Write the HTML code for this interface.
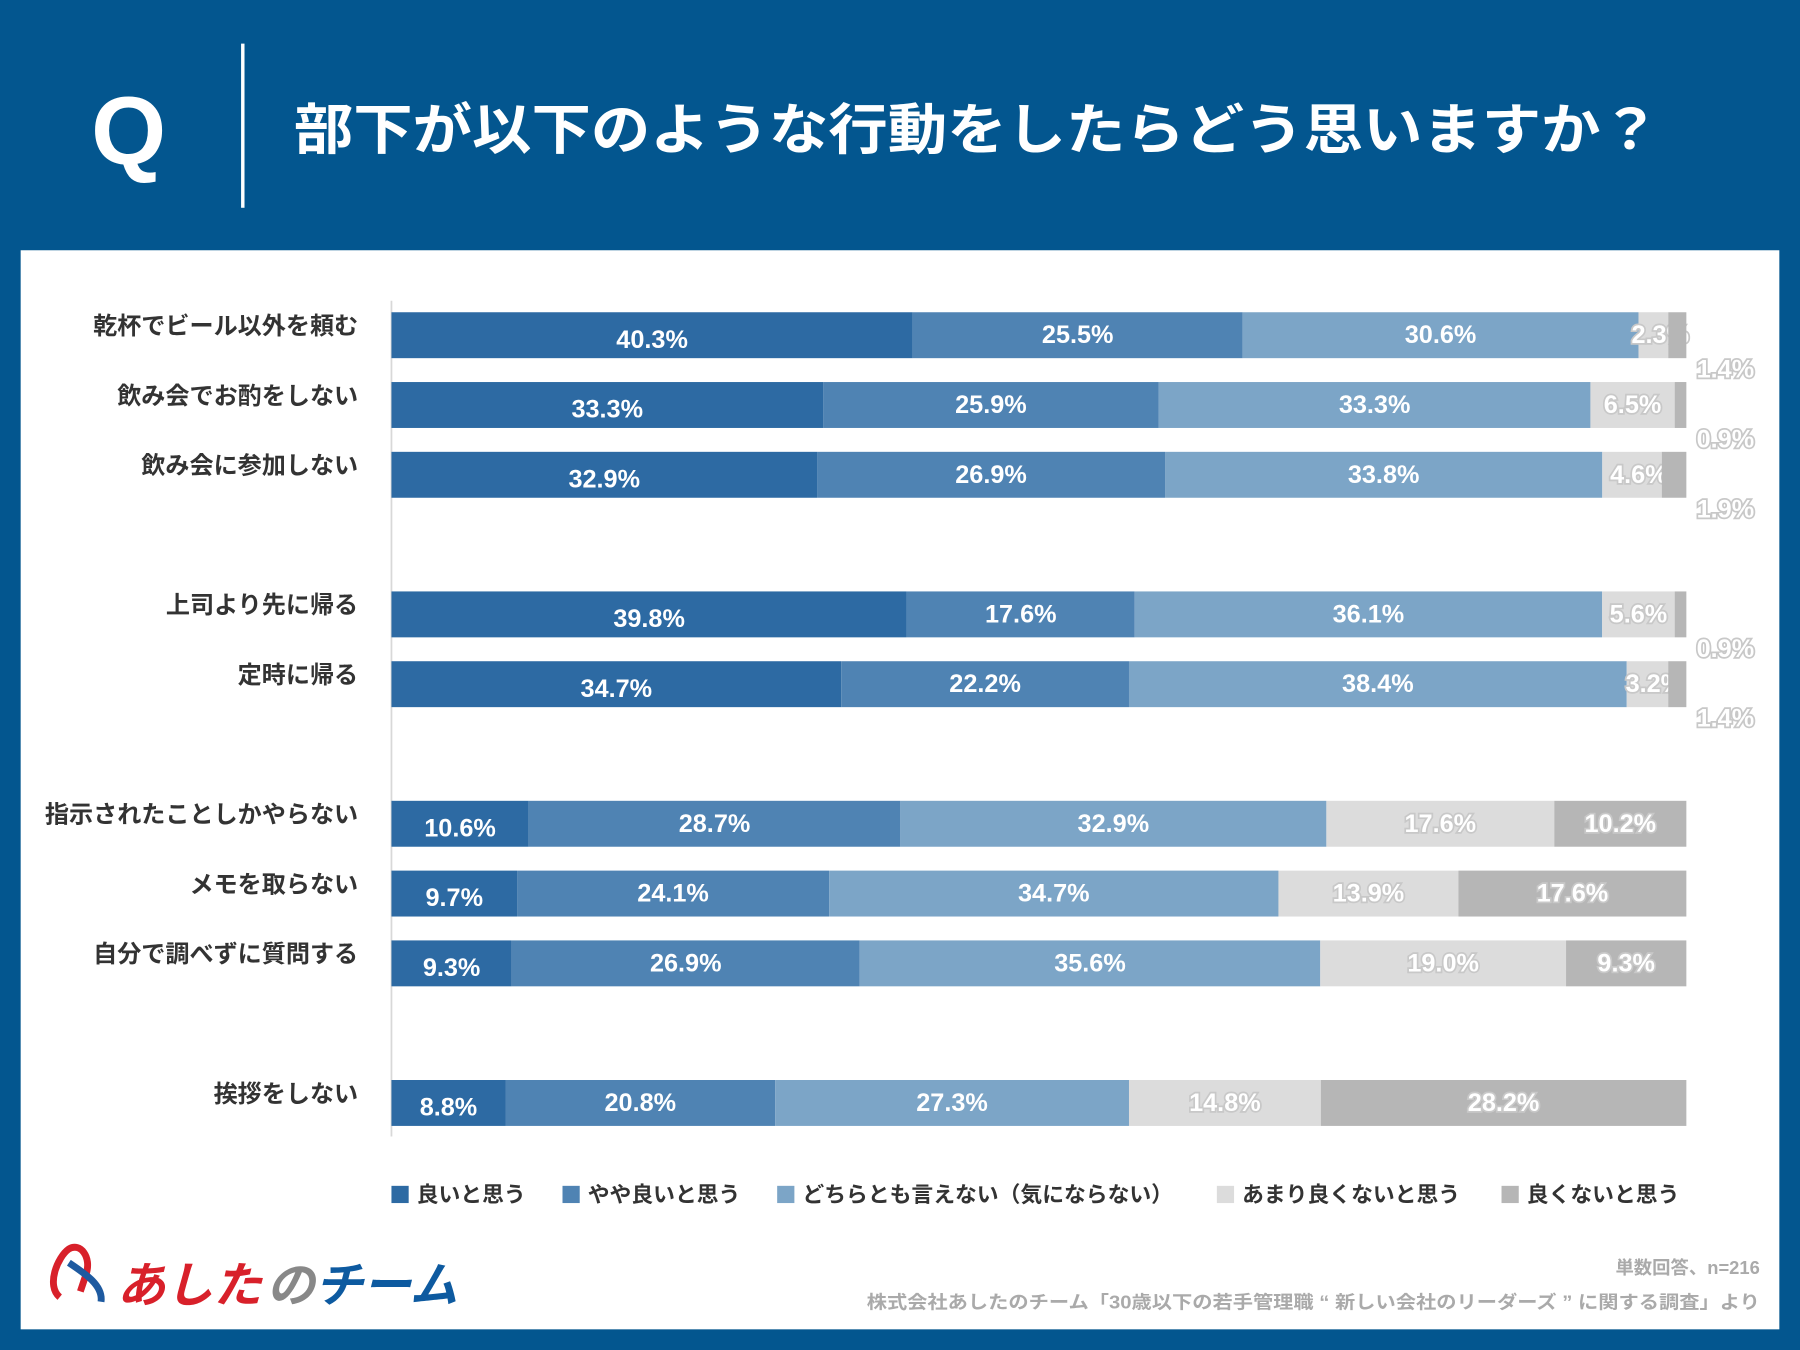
<!DOCTYPE html>
<html><head><meta charset="utf-8"><style>
html,body{margin:0;padding:0;background:#03568f;}
svg{display:block;}
text{font-family:"Liberation Sans","Noto Sans CJK JP",sans-serif;}
</style></head><body>
<svg id="chart" width="1800" height="1350" viewBox="0 0 1568 1176" xmlns="http://www.w3.org/2000/svg">
<rect x="0" y="0" width="1568" height="1176" fill="#03568f"/>
<text x="112" y="143" font-size="84" font-weight="bold" fill="#fff" text-anchor="middle">Q</text>
<rect x="210" y="38" width="3" height="143" fill="#fff"/>
<text x="256" y="130" font-size="48" font-weight="bold" fill="#fff" textLength="1190" lengthAdjust="spacingAndGlyphs">部下が以下のような行動をしたらどう思いますか？</text>
<rect x="18" y="218" width="1532" height="940" fill="#fff"/>
<line x1="341" y1="262" x2="341" y2="990" stroke="#d8d8d8" stroke-width="1.5"/>
<g id="bars"></g>
<g id="legend"></g>
<g>
<path d="M52 1130 C40 1120 50 1095 60 1088 C70 1082 80 1095 75 1110 L70 1125" fill="none" stroke="#d8202a" stroke-width="6"/>
<path d="M60 1100 C75 1110 90 1120 88 1134" fill="none" stroke="#1e5aa0" stroke-width="6"/>
<text x="102" y="1134" font-size="42" font-weight="bold" font-style="italic" fill="#d8202a">あした</text>
<text x="232" y="1134" font-size="42" font-weight="bold" font-style="italic" fill="#888">の</text>
<text x="274" y="1134" font-size="42" font-weight="bold" font-style="italic" fill="#0d5aa0">チーム</text>
</g>
<text x="1533" y="1110" font-size="16" font-weight="bold" fill="#aaa" text-anchor="end">単数回答、n=216</text>
<text x="755" y="1140" font-size="16" font-weight="bold" fill="#aaa" textLength="778" lengthAdjust="spacingAndGlyphs">株式会社あしたのチーム「30歳以下の若手管理職 “ 新しい会社のリーダーズ ” に関する調査」より</text>
</svg>
<script>
const categories = ["乾杯でビール以外を頼む","飲み会でお酌をしない","飲み会に参加しない","上司より先に帰る","定時に帰る","指示されたことしかやらない","メモを取らない","自分で調べずに質問する","挨拶をしない"];
const rowSlots = [0,1,2,4,5,7,8,9,11];
const seriesNames = ["良いと思う","やや良いと思う","どちらとも言えない（気にならない）","あまり良くないと思う","良くないと思う"];
const s1 = [40.3,33.3,32.9,39.8,34.7,10.6,9.7,9.3,8.8];
const s2 = [25.5,25.9,26.9,17.6,22.2,28.7,24.1,26.9,20.8];
const s3 = [30.6,33.3,33.8,36.1,38.4,32.9,34.7,35.6,27.3];
const s4 = [2.3,6.5,4.6,5.6,3.2,17.6,13.9,19.0,14.8];
const s5 = [1.4,0.9,1.9,0.9,1.4,10.2,17.6,9.3,28.2];
const series=[s1,s2,s3,s4,s5];
const colors=["#2d6aa3","#4f83b3","#7ca5c7","#dcdcdc","#b6b6b6"];
const NS="http://www.w3.org/2000/svg";
const X0=341,W=1128,Y0=292,STEP=60.8,BH=40;
const xs=v=>v/100*W;
const yRow=i=>Y0+rowSlots[i]*STEP;
function mk(tag,attrs,parent){const e=document.createElementNS(NS,tag);for(const k in attrs)e.setAttribute(k,attrs[k]);parent.appendChild(e);return e;}
const g=document.getElementById('bars');
categories.forEach((c,i)=>{
  const yc=yRow(i);
  const t=mk('text',{x:312,y:yc-1,'font-size':21,'font-weight':'bold',fill:'#333','text-anchor':'end'},g);
  
  
  t.textContent=c;
  let total=0;series.forEach(s=>total+=s[i]);
  let acc=0;
  series.forEach((s,j)=>{
    const v=s[i];const x=X0+xs(acc/total*100);const w=xs(v/total*100);
    const r=mk('rect',{x:x,y:yc-BH/2,width:w,height:BH,fill:colors[j]},g);
    
    
    let lx=x+w/2,ly=yc+(j==0?11:7),small=(j==4&&v<5);
    if(small){lx=1503;ly=yc+37;}
    if(j==3&&v<5){lx=x+w/2+6;}
    const gray=j>=3;
    const lab=mk('text',{x:lx,y:ly,'font-size':22,'font-weight':'bold',fill:'#fff','text-anchor':'middle'},g);
    if(gray){lab.setAttribute('stroke','#c8c8c8');lab.setAttribute('stroke-width','3');lab.setAttribute('paint-order','stroke');}
    
    
    lab.textContent=v.toFixed(1)+'%';
    acc+=v;
  });
});
const lg=document.getElementById('legend');
const lx=[341,490,677,1060,1308];
seriesNames.forEach((n,j)=>{
  const r=mk('rect',{x:lx[j],y:1033,width:15,height:15,fill:colors[j]},lg);
  
  
  const t=mk('text',{x:lx[j]+22,y:1047,'font-size':19,'font-weight':'bold',fill:'#333'},lg);
  
  
  t.textContent=n;
});
</script>
</body></html>
